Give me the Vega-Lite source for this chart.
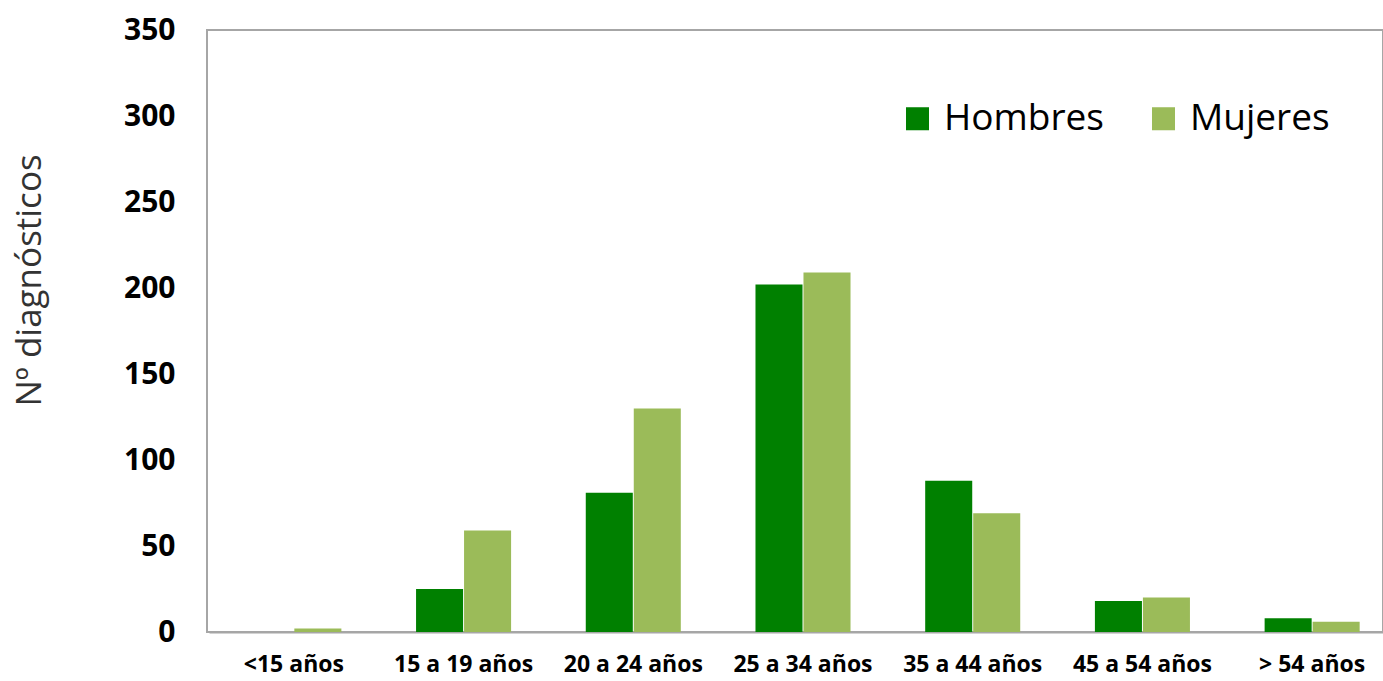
{
  "$schema": "https://vega.github.io/schema/vega-lite/v6.json",
  "autosize": {"type": "none"},
  "width": 1176,
  "height": 602,
  "padding": {"left": 207, "top": 30, "right": 0, "bottom": 49},
  "background": "white",
  "config": {
    "font": "Open Sans",
    "view": {"stroke": "#a6a6a6", "strokeWidth": 2}
  },
  "data": {
    "values": [
      {"edad": "<15 años", "sexo": "Hombres", "n": 0},
      {"edad": "<15 años", "sexo": "Mujeres", "n": 2},
      {"edad": "15 a 19 años", "sexo": "Hombres", "n": 25},
      {"edad": "15 a 19 años", "sexo": "Mujeres", "n": 59},
      {"edad": "20 a 24 años", "sexo": "Hombres", "n": 81},
      {"edad": "20 a 24 años", "sexo": "Mujeres", "n": 130},
      {"edad": "25 a 34 años", "sexo": "Hombres", "n": 202},
      {"edad": "25 a 34 años", "sexo": "Mujeres", "n": 209},
      {"edad": "35 a 44 años", "sexo": "Hombres", "n": 88},
      {"edad": "35 a 44 años", "sexo": "Mujeres", "n": 69},
      {"edad": "45 a 54 años", "sexo": "Hombres", "n": 18},
      {"edad": "45 a 54 años", "sexo": "Mujeres", "n": 20},
      {"edad": "> 54 años", "sexo": "Hombres", "n": 8},
      {"edad": "> 54 años", "sexo": "Mujeres", "n": 6}
    ]
  },
  "mark": {"type": "bar"},
  "encoding": {
    "x": {
      "field": "edad", "type": "nominal", "sort": null,
      "scale": {"range": [2, 1190], "paddingInner": 0.44, "paddingOuter": 0.22},
      "axis": {
        "title": null, "labelAngle": 0, "ticks": false,
        "domainColor": "#a6a6a6", "domainWidth": 2,
        "labelFont": "Open Sans", "labelFontSize": 23, "labelFontWeight": "bold",
        "labelColor": "black", "labelPadding": 21, "labelLimit": 0
      }
    },
    "xOffset": {"field": "sexo", "type": "nominal", "scale": {"paddingInner": 0.02}},
    "y": {
      "field": "n", "type": "quantitative",
      "scale": {"domain": [0, 350]},
      "axis": {
        "title": "Nº diagnósticos", "values": [0, 50, 100, 150, 200, 250, 300, 350],
        "grid": false, "ticks": false, "domain": false,
        "labelFont": "Open Sans", "labelFontSize": 30, "labelFontWeight": "bold",
        "labelColor": "black", "labelPadding": 32,
        "titleFont": "Open Sans", "titleFontSize": 35, "titleFontWeight": "normal",
        "titleColor": "#333333", "titleX": -167, "titleY": 250,
        "titleAngle": -90, "titleAlign": "center", "titleBaseline": "alphabetic"
      }
    },
    "color": {
      "field": "sexo", "type": "nominal",
      "scale": {"domain": ["Hombres", "Mujeres"], "range": ["#008000", "#9bbb59"]},
      "legend": {
        "title": null, "orient": "none", "direction": "horizontal",
        "legendX": 692, "legendY": 70,
        "symbolType": "square", "symbolSize": 530, "symbolStrokeWidth": 0,
        "labelFont": "Open Sans", "labelFontSize": 37, "labelColor": "black",
        "labelOffset": 8, "columnPadding": 41, "labelLimit": 0
      }
    }
  }
}
